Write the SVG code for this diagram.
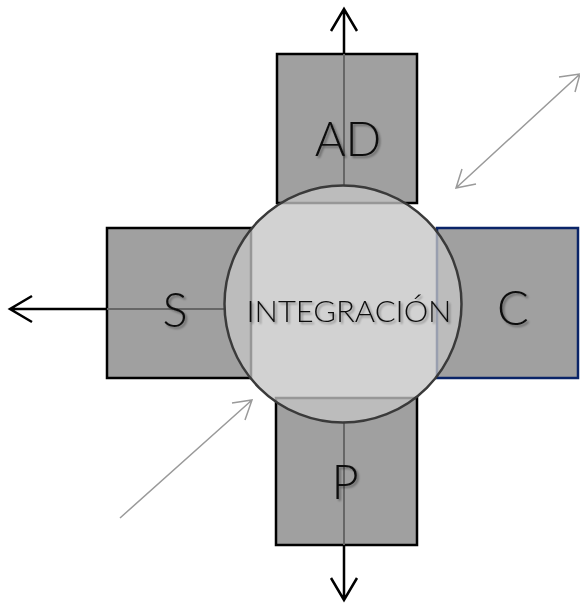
<svg xmlns="http://www.w3.org/2000/svg" width="580" height="603" viewBox="0 0 580 603">
<defs>
<style>
.box{fill:#a0a0a0;stroke:#000;stroke-width:2.5}
.boxc{fill:#a0a0a0;stroke:#0a2468;stroke-width:2.5}
.lbl{font-family:"Lato","Open Sans","Liberation Sans",sans-serif;font-weight:300;fill:#111;text-anchor:middle}
.blk{stroke:#000;stroke-width:2.5;fill:none}
.inn{stroke:#666;stroke-width:2;fill:none}
.gry{stroke:#9a9a9a;stroke-width:1.5;fill:none}
</style>
<filter id="sh" x="-20%" y="-20%" width="140%" height="140%">
<feGaussianBlur in="SourceAlpha" stdDeviation="1.2"/>
<feOffset dx="2" dy="2" result="b"/>
<feComponentTransfer><feFuncA type="linear" slope="0.35"/></feComponentTransfer>
<feMerge><feMergeNode/><feMergeNode in="SourceGraphic"/></feMerge>
</filter>
</defs>
<rect width="580" height="603" fill="#fff"/>
<g id="AD"><rect class="box" x="277" y="54" width="140" height="149"/></g>
<g id="S"><rect class="box" x="107" y="228" width="144" height="150"/></g>
<g id="C"><rect class="boxc" x="437" y="228" width="141" height="150"/></g>
<g id="P"><rect class="box" x="276" y="398" width="141" height="147"/></g>
<g id="connectors">
<line class="inn" x1="344" y1="54" x2="344" y2="186"/>
<line class="inn" x1="107" y1="309" x2="225" y2="309"/>
<line class="inn" x1="344" y1="421" x2="344" y2="545"/>
<path class="blk" d="M344 54V9M331 31L344 9L357 31"/>
<path class="blk" d="M107 309H10M32 296L10 309L32 322"/>
<path class="blk" d="M344 545V600M331 578L344 600L357 578"/>
<path class="gry" d="M456 188L580 74M462 169L456 188L476 184M559 77L580 74L575 92"/>
<path class="gry" d="M120 518L252 400M232 403L252 400L245 420"/>
</g>
<g id="INTEGRACION">
<circle cx="343" cy="304" r="118.5" fill="#c4c4c4" fill-opacity="0.77" stroke="#3a3a3a" stroke-width="2.5"/>
<text class="lbl" x="349" y="322" font-size="30" textLength="205" lengthAdjust="spacingAndGlyphs" filter="url(#sh)">INTEGRACIÓN</text>
</g>
<g id="labels">
<text class="lbl" x="348" y="156" font-size="47" filter="url(#sh)">AD</text>
<text class="lbl" x="175" y="327" font-size="47" filter="url(#sh)">S</text>
<text class="lbl" x="513" y="325" font-size="47" filter="url(#sh)">C</text>
<text class="lbl" x="345" y="499" font-size="47" filter="url(#sh)">P</text>
</g>
</svg>
